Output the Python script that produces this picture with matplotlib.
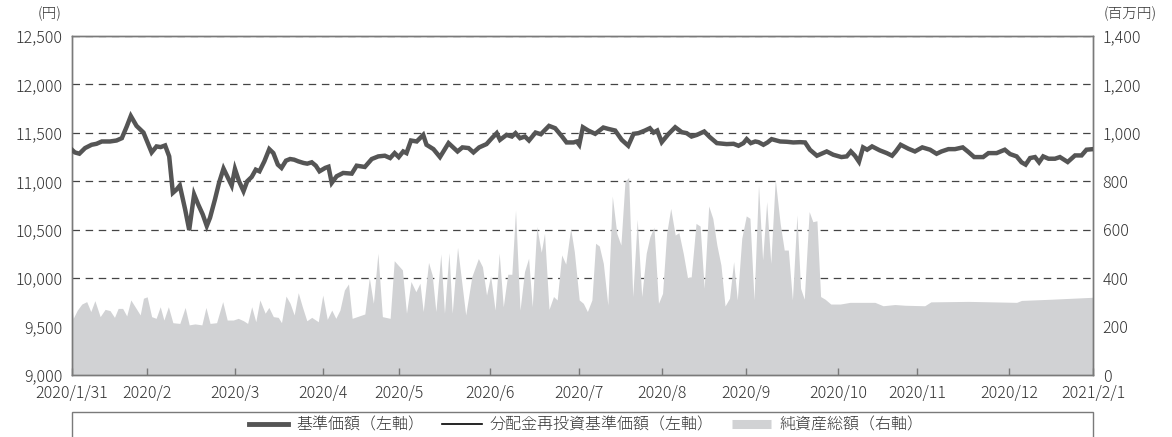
import matplotlib
matplotlib.use("Agg")
import matplotlib.pyplot as plt
from matplotlib.lines import Line2D
from matplotlib.patches import Rectangle
import numpy as np

plt.rcParams['font.family'] = ['Noto Sans CJK JP', 'DejaVu Sans']
plt.rcParams['font.weight'] = 'light'

# 基準価額 (円) : 営業日インデックスと値
nav_day = [0.0, 0.7, 1.8, 3.2, 4.8, 6.0, 7.3, 9.3, 10.9, 12.2, 13.4, 14.4, 15.8, 17.5, 18.4,
           19.5, 20.7, 21.7, 22.8, 23.8, 24.7, 25.6, 26.4, 27.7, 28.7, 29.9, 30.9, 32.0, 33.0,
           33.8, 35.0, 36.0, 37.1, 38.0, 39.1, 39.9, 40.9, 42.0, 42.9, 44.0, 45.0, 45.9, 47.1,
           48.3, 49.3, 50.4, 51.3, 52.4, 53.4, 54.4, 55.4, 56.7, 57.6, 58.7, 59.7, 60.6, 62.0,
           62.8, 63.6, 64.8, 66.4, 68.5, 69.7, 71.7, 73.4, 75.0, 76.6, 77.9, 79.0, 80.0, 81.1,
           81.9, 83.0, 84.4, 86.0, 86.8, 88.5, 90.1, 92.2, 94.4, 95.6, 97.1, 98.3, 99.7, 101.5,
           102.8, 104.0, 104.8, 106.4, 107.7, 108.6, 109.7, 110.9, 111.9, 113.5, 114.8, 116.8,
           118.3, 120.0, 121.1, 122.8, 123.6, 124.2, 125.1, 126.4, 128.1, 130.1, 131.3, 133.0,
           134.6, 136.2, 137.5, 138.7, 140.3, 141.5, 142.4, 143.3, 144.4, 146.0, 147.7, 149.3,
           150.5, 151.7, 153.0, 154.8, 156.2, 157.9, 160.3, 162.0, 163.2, 164.4, 165.2, 166.2,
           167.3, 168.1, 169.3, 170.3, 171.3, 173.4, 175.0, 176.6, 178.3, 179.5, 180.7, 182.4,
           184.8, 186.4, 188.4, 189.7, 190.7, 191.7, 192.7, 193.7, 194.7, 195.9, 197.8, 199.5,
           200.8, 201.7, 202.9, 204.8, 206.4, 208.2, 210.1, 211.7, 212.9, 214.6, 216.2, 218.1,
           219.5, 220.9, 223.1, 224.4, 226.4, 228.4, 229.7, 231.3, 232.5, 233.5, 234.6, 235.8,
           236.8, 237.8, 239.1, 240.7, 241.9, 243.8, 245.6, 247.2, 248.4, 250.0]
nav = [11325, 11298, 11285, 11343, 11377, 11387, 11411, 11411, 11421, 11445, 11565, 11674, 11572,
       11503, 11411, 11298, 11360, 11353, 11370, 11257, 10881, 10915, 10956, 10710, 10498, 10864,
       10761, 10659, 10539, 10624, 10812, 10983, 11131, 11052, 10956, 11127, 11000, 10898, 11000,
       11045, 11120, 11103, 11206, 11332, 11291, 11172, 11138, 11213, 11230, 11223, 11206, 11189,
       11182, 11196, 11161, 11103, 11138, 11150, 10984, 11052, 11086, 11079, 11161, 11148, 11230,
       11257, 11264, 11240, 11291, 11250, 11308, 11291, 11421, 11411, 11479, 11377, 11332, 11250,
       11394, 11308, 11350, 11343, 11298, 11350, 11384, 11445, 11497, 11428, 11479, 11462, 11497,
       11445, 11462, 11421, 11503, 11486, 11572, 11548, 11462, 11401, 11401, 11411, 11377, 11558,
       11524, 11490, 11555, 11541, 11524, 11428, 11367, 11490, 11497, 11524, 11548, 11503, 11524,
       11404, 11486, 11558, 11507, 11497, 11462, 11479, 11514, 11455, 11394, 11384, 11387, 11367,
       11394, 11435, 11394, 11411, 11404, 11377, 11401, 11435, 11411, 11408, 11401, 11404, 11401,
       11325, 11264, 11308, 11274, 11250, 11257, 11308, 11264, 11202, 11350, 11326, 11360, 11319,
       11291, 11264, 11308, 11377, 11336, 11308, 11350, 11326, 11284, 11308, 11332, 11332, 11350,
       11302, 11250, 11250, 11291, 11291, 11326, 11281, 11257, 11196, 11172, 11240, 11250, 11196,
       11257, 11233, 11233, 11250, 11199, 11267, 11267, 11326, 11332]

# 純資産総額 (百万円)
aum_day = [0.0, 0.3, 1.3, 2.4, 3.6, 4.6, 5.6, 6.9, 8.1, 9.3, 10.4, 11.3, 12.4, 13.4, 14.4, 15.7,
           16.7, 17.5, 18.4, 19.5, 20.6, 21.6, 22.5, 23.6, 24.7, 26.4, 27.7, 28.7, 30.1, 31.8,
           32.8, 33.8, 35.4, 36.9, 38.0, 39.5, 40.7, 42.0, 43.0, 44.0, 45.0, 46.0, 47.3, 48.2,
           49.3, 50.5, 51.3, 52.4, 53.4, 54.4, 55.4, 56.4, 57.5, 58.7, 60.3, 61.4, 62.5, 63.6,
           64.6, 65.6, 66.7, 67.7, 68.6, 71.7, 72.8, 73.8, 74.9, 76.0, 77.9, 78.9, 80.9, 81.9,
           83.0, 84.2, 85.2, 86.0, 87.3, 88.2, 89.1, 90.3, 91.2, 92.3, 93.1, 94.4, 96.4, 97.9,
           99.5, 100.5, 101.5, 102.5, 103.6, 104.6, 105.6, 106.7, 107.7, 108.6, 109.7, 110.8,
           111.8, 112.7, 113.8, 114.9, 115.7, 116.8, 117.9, 118.8, 119.9, 120.9, 122.1, 123.0,
           124.2, 125.2, 126.2, 127.3, 128.2, 129.1, 130.1, 131.2, 132.3, 133.4, 134.4, 135.4,
           136.3, 137.3, 138.4, 139.5, 140.6, 141.5, 142.5, 143.6, 144.6, 145.6, 146.6, 147.7,
           148.6, 149.7, 150.7, 151.6, 152.8, 153.8, 154.8, 155.9, 156.9, 157.9, 158.9, 159.9,
           161.0, 162.0, 162.9, 164.0, 165.1, 166.0, 167.0, 168.1, 169.1, 170.1, 171.1, 172.2,
           173.4, 174.4, 175.4, 176.4, 177.5, 178.4, 179.3, 180.5, 181.4, 182.4, 183.3, 184.4,
           185.8, 188.1, 190.5, 196.6, 198.6, 201.5, 204.0, 208.8, 210.3, 219.5, 231.3, 232.5,
           239.9, 250.0]
aum = [282, 234, 268, 293, 303, 262, 307, 241, 271, 266, 238, 275, 275, 244, 310, 275, 248, 317,
       323, 241, 234, 282, 227, 282, 216, 213, 279, 207, 211, 207, 279, 213, 216, 303, 227, 227,
       234, 224, 213, 282, 220, 310, 255, 279, 241, 238, 216, 326, 296, 248, 340, 282, 224, 238,
       220, 330, 230, 268, 234, 268, 351, 376, 234, 252, 402, 296, 503, 241, 234, 472, 434, 255,
       386, 344, 379, 262, 465, 413, 262, 500, 255, 505, 255, 527, 248, 406, 481, 447, 330, 410,
       268, 503, 282, 416, 416, 681, 268, 427, 482, 282, 613, 507, 585, 271, 324, 310, 496, 458,
       606, 509, 310, 296, 262, 310, 544, 533, 461, 289, 739, 585, 537, 799, 816, 324, 643, 324,
       503, 571, 610, 296, 337, 585, 688, 578, 588, 500, 403, 403, 626, 615, 358, 698, 647, 537,
       454, 285, 317, 468, 310, 565, 657, 647, 310, 785, 475, 716, 461, 808, 626, 516, 516, 310,
       661, 358, 313, 675, 633, 637, 324, 313, 293, 293, 300, 300, 286, 291, 288, 286, 302, 304,
       300, 308, 313, 321]

tick_day = [0, 18.4, 40.0, 61.5, 80.0, 102.4, 124.1, 144.5, 165.0, 187.6, 207.0, 229.5, 250]
tick_lab = ['2020/1/31', '2020/2', '2020/3', '2020/4', '2020/5', '2020/6', '2020/7', '2020/8',
            '2020/9', '2020/10', '2020/11', '2020/12', '2021/2/1']

line_c = '#555555'
area_c = '#d1d2d4'
txt_c = '#333333'
spine_c = '#7a7a7a'

fig = plt.figure(figsize=(11.72, 4.37), dpi=100)
ax = fig.add_axes([72/1172, 1-375/437, (1093-72)/1172, (375-36)/437])
ax2 = ax.twinx()
ax.set_zorder(ax2.get_zorder() + 1)
ax.patch.set_visible(False)

# 純資産総額 (右軸)
ax2.fill_between(aum_day, 0, aum, color=area_c, lw=0, zorder=2)
ax2.set_ylim(0, 1400)
ax2.set_yticks(np.arange(0, 1401, 200))
ax2.set_yticklabels([f'{v:,}' for v in range(0, 1401, 200)])
ax2.set_axisbelow(True)
ax2.grid(axis='y', color='#444444', lw=0.9, dashes=(6, 4.5))

# 基準価額 (左軸)
ax.plot(nav_day, nav, color='black', lw=1.1, zorder=3)
ax.plot(nav_day, nav, color=line_c, lw=3.2, zorder=4, solid_joinstyle='miter')
ax.set_ylim(9000, 12500)
ax.set_yticks(np.arange(9000, 12501, 500))
ax.set_yticklabels([f'{v:,}' for v in range(9000, 12501, 500)])
ax.set_xlim(0, 250)
ax.set_xticks(tick_day)
ax.set_xticklabels(tick_lab)

for a in (ax, ax2):
    for s in a.spines.values():
        s.set_color(spine_c)
        s.set_linewidth(1)
ax.tick_params(axis='y', length=0, pad=7, labelsize=11.5, labelcolor=txt_c)
ax2.tick_params(axis='y', length=0, pad=7, labelsize=11.5, labelcolor=txt_c)
ax.tick_params(axis='x', direction='in', length=5, width=1, color=spine_c, pad=7,
               labelsize=11.5, labelcolor=txt_c)

fig.text(50/1172, 1-14/437, '(円)', ha='center', va='center', fontsize=10.5, color=txt_c)
fig.text(1130/1172, 1-14/437, '(百万円)', ha='center', va='center', fontsize=10.5, color=txt_c)

# 凡例
fig.patches.append(Rectangle((72/1172, -0.2), (1093-72)/1172, 0.2+1-412/437,
                             transform=fig.transFigure, fill=False, ec=spine_c, lw=1))
handles = [Line2D([], [], color=line_c, lw=3.5),
           Line2D([], [], color='black', lw=1.2),
           Line2D([], [], color=area_c, lw=6.5, solid_capstyle='butt')]
labels = ['基準価額（左軸）', '分配金再投資基準価額（左軸）', '純資産総額（右軸）']
fig.legend(handles, labels, loc='center', bbox_to_anchor=(0.5, 1-425/437), ncol=3,
           frameon=False, fontsize=11.5, handlelength=2.5, handletextpad=0.5,
           columnspacing=1.1, labelcolor=txt_c)

fig.savefig('out.png', dpi=100)
